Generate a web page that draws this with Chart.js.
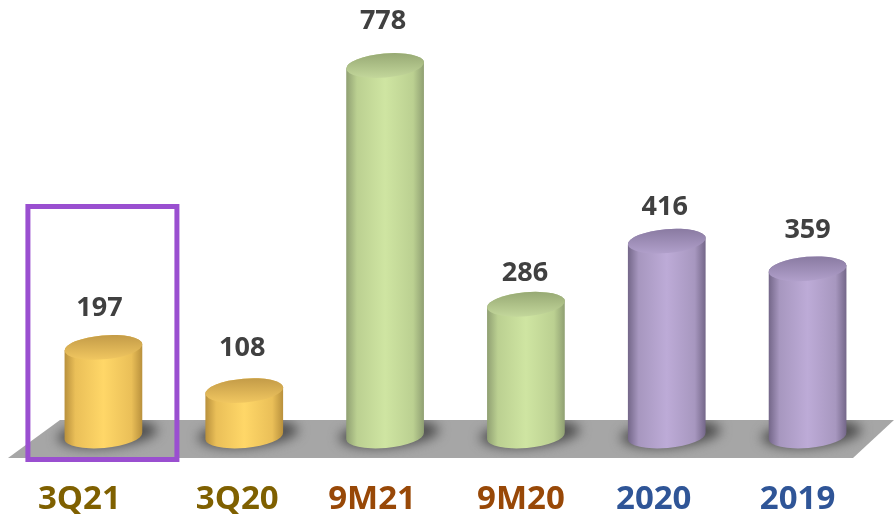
<!DOCTYPE html>
<html>
<head>
<meta charset="utf-8">
<title>Results</title>
<script src="https://cdn.jsdelivr.net/npm/chart.js@4/dist/chart.umd.min.js"></script>
<style>
html, body { margin: 0; padding: 0; background: #fff; overflow: hidden; }
canvas { display: block; }
</style>
</head>
<body>
<canvas id="chart" width="894" height="517"></canvas>
<script>
// --- 1. DATA ---
const categories = ['3Q21', '3Q20', '9M21', '9M20', '2020', '2019'];
const values = [197, 108, 778, 286, 416, 359];

// --- 2. STYLES ---
const tickColors = ['#7f6000', '#7f6000', '#984807', '#984807', '#2f5597', '#2f5597'];
const edgeColors = ['#b8903c', '#b8903c', '#8f9f72', '#8f9f72', '#736688', '#736688'];
const nearColors = ['#eabf58', '#eabf58', '#bbd091', '#bbd091', '#a797bf', '#a797bf'];
const midColors = ['#ffd768', '#ffd768', '#cfe5a2', '#cfe5a2', '#bdabd7', '#bdabd7'];
const capDark = ['#c49c48', '#c49c48', '#98aa75', '#98aa75', '#8a7ba2', '#8a7ba2'];
const capLight = ['#f0c660', '#f0c660', '#c2d69a', '#c2d69a', '#b09fca', '#b09fca'];
const labelGaps = [39, 42, 44, 31, 34, 38];
const labelShifts = [-4, -2, -2, -1, -2, 0];
const tickShifts = [-24, -7, -13, -5, -13, -10];

const TILT = -5 * Math.PI / 180;
const CAP_RY = 12;
const BASE_LIFT = 7; // bottom ellipse sits a little above the zero line

// --- 3. DRAWING ---
function floorPath(ctx) {
    ctx.beginPath();
    ctx.moveTo(8, 458);
    ctx.lineTo(60, 420);
    ctx.lineTo(894, 420);
    ctx.lineTo(853, 458);
    ctx.closePath();
}

const cylinderPlugin = {
    id: 'cylinders',
    beforeDatasetsDraw(chart) {
        const ctx = chart.ctx;
        const bars = chart.getDatasetMeta(0).data;
        ctx.save();
        floorPath(ctx);
        ctx.fillStyle = '#a6a6a6';
        ctx.fill();
        ctx.clip();
        ctx.filter = 'blur(6px)';
        ctx.fillStyle = '#4d4d4d';
        bars.forEach(b => {
            ctx.beginPath();
            ctx.ellipse(b.x + 4, b.base - 9, 50, 13, TILT, 0, Math.PI * 2);
            ctx.fill();
        });
        ctx.restore();
    },
    afterDatasetsDraw(chart) {
        const ctx = chart.ctx;
        chart.getDatasetMeta(0).data.forEach((b, i) => {
            const rx = b.width / 2;
            const bottom = b.base - BASE_LIFT;

            const side = ctx.createLinearGradient(b.x - rx, 0, b.x + rx, 0);
            side.addColorStop(0, edgeColors[i]);
            side.addColorStop(0.14, nearColors[i]);
            side.addColorStop(0.5, midColors[i]);
            side.addColorStop(0.86, nearColors[i]);
            side.addColorStop(1, edgeColors[i]);
            ctx.beginPath();
            ctx.ellipse(b.x, bottom, rx, CAP_RY, TILT, 0, Math.PI);
            ctx.ellipse(b.x, b.y, rx, CAP_RY, TILT, Math.PI, Math.PI * 2);
            ctx.closePath();
            ctx.fillStyle = side;
            ctx.fill();

            const cap = ctx.createLinearGradient(0, b.y - CAP_RY, 0, b.y + CAP_RY);
            cap.addColorStop(0, capDark[i]);
            cap.addColorStop(1, capLight[i]);
            ctx.beginPath();
            ctx.ellipse(b.x, b.y, rx, CAP_RY, TILT, 0, Math.PI * 2);
            ctx.fillStyle = cap;
            ctx.fill();

            ctx.fillStyle = '#404040';
            ctx.font = 'bold 27px "Open Sans"';
            ctx.textAlign = 'center';
            ctx.textBaseline = 'middle';
            ctx.fillText(values[i], b.x + labelShifts[i], b.y - labelGaps[i]);

            // category labels sit slightly left of their bars in the source
            ctx.fillStyle = tickColors[i];
            ctx.font = 'bold 33px "Open Sans"';
            ctx.fillText(categories[i], b.x + tickShifts[i], b.base + 57);
        });
    },
    afterDraw(chart) {
        // highlight box round the current quarter
        const ctx = chart.ctx;
        const x = chart.scales.x.getPixelForValue(0);
        ctx.save();
        ctx.strokeStyle = '#9a4fd0';
        ctx.lineWidth = 5;
        ctx.strokeRect(x - 75.5, 206.5, 149, 253);
        ctx.restore();
    }
};

// --- 4. CHART ---
new Chart(document.getElementById('chart').getContext('2d'), {
    type: 'bar',
    data: {
        labels: categories,
        datasets: [{ data: values, backgroundColor: 'transparent', barThickness: 78 }]
    },
    options: {
        responsive: false,
        animation: false,
        layout: { padding: { left: 33, right: 16, top: 0, bottom: 0 } },
        plugins: { legend: { display: false }, tooltip: { enabled: false } },
        scales: {
            x: {
                grid: { display: false },
                border: { display: false },
                afterFit(s) { s.height = 74; },
                ticks: { display: false }
            },
            y: { display: false, min: 0, max: 913 }
        }
    },
    plugins: [cylinderPlugin]
});
</script>
</body>
</html>
